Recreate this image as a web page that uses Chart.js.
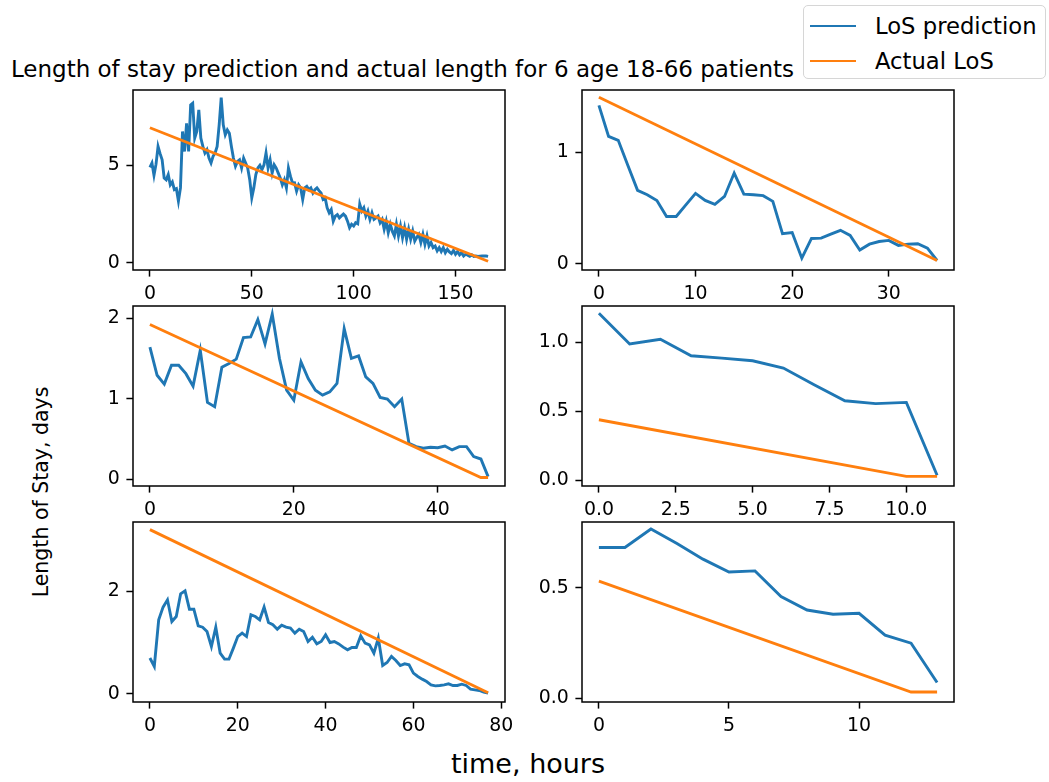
<!DOCTYPE html>
<html>
<head>
<meta charset="utf-8">
<script src="https://cdn.jsdelivr.net/npm/chart.js@4.4.1/dist/chart.umd.min.js"></script>
<style>
    body { margin: 0; background: #fff; width: 1049px; height: 782px; overflow: hidden; position: relative; font-family: 'DejaVu Sans', sans-serif; color: #000; }
    canvas { position: absolute; }
    .txt { position: absolute; white-space: nowrap; }
    #legend { position: absolute; left: 803px; top: 5px; width: 241px; height: 72px; border: 1.5px solid #d6d6d6; border-radius: 5px; background: #fff; font-size: 22.7px; white-space: nowrap; }
    .leg-line { position: absolute; left: 6px; width: 46px; height: 2.9px; }
    .leg-text { position: absolute; left: 71px; line-height: 26px; height: 26px; }
</style>
</head>
<body>

<div class="txt" id="title" style="left:0; top:56px; width:805px; text-align:center; font-size:23px;">Length of stay prediction and actual length for 6 age 18-66 patients</div>

<div id="legend">
    <div class="leg-line" style="top:18.5px; background:#1f77b4"></div>
    <div class="leg-text" style="top:7px;">LoS prediction</div>
    <div class="leg-line" style="top:53.5px; background:#ff7f0e"></div>
    <div class="leg-text" style="top:42px;">Actual LoS</div>
</div>

<div class="txt" id="ylabel" style="left:41px; top:492px; font-size:20.5px; transform: translate(-50%, -50%) rotate(-90deg);">Length of Stay, days</div>
<div class="txt" id="xlabel" style="left:528px; top:763px; font-size:27px; transform: translate(-50%, -50%);">time, hours</div>

<canvas id="c1"></canvas>
<canvas id="c2"></canvas>
<canvas id="c3"></canvas>
<canvas id="c4"></canvas>
<canvas id="c5"></canvas>
<canvas id="c6"></canvas>

<script>
// predicted LoS per hour, one value per hour from 0
const predTL = [4.9, 5.12, 4.49, 5.06, 5.97, 5.6, 5.28, 4.35, 4.26, 4.52,
    4.0, 4.15, 3.75, 3.8, 3.16, 3.84, 6.74, 5.71, 7.16, 5.71,
    8.1, 8.19, 6.4, 6.74, 7.85, 6.4, 5.97, 5.63, 5.8, 5.37,
    5.12, 5.46, 5.63, 5.97, 7.08, 8.48, 7.08, 6.57, 6.82, 6.65,
    5.97, 5.37, 4.95, 5.2, 5.28, 4.86, 5.37, 5.12, 4.86, 4.26,
    3.33, 3.84, 4.52, 4.86, 5.0, 4.78, 5.03, 5.63, 4.86, 5.28,
    4.6, 5.03, 4.86, 4.6, 4.35, 4.0, 4.26, 3.84, 4.86, 4.43,
    4.09, 4.1, 3.67, 4.0, 3.84, 3.25, 3.84, 3.92, 3.75, 3.84,
    3.58, 3.75, 3.84, 3.7, 3.58, 3.25, 3.33, 2.82, 2.56, 2.73,
    2.13, 2.39, 2.47, 2.3, 2.4, 2.5, 2.39, 2.13, 1.79, 1.97,
    1.88, 2.05, 2.0, 3.0, 2.65, 2.82, 2.39, 2.65, 2.22, 2.56,
    2.22, 2.3, 2.39, 2.05, 2.22, 1.71, 2.13, 1.54, 1.97, 1.6,
    1.37, 1.97, 1.37, 1.88, 1.28, 1.79, 1.2, 1.71, 1.2, 1.62,
    1.11, 1.3, 1.45, 1.03, 1.45, 0.94, 1.37, 0.85, 1.03, 0.77,
    0.85, 0.6, 0.77, 0.57, 0.77, 0.51, 0.68, 0.55, 0.46, 0.63,
    0.43, 0.57, 0.4, 0.51, 0.34, 0.43, 0.38, 0.32, 0.4, 0.32,
    0.34, 0.32, 0.33, 0.34, 0.34, 0.34, 0.32];
const predTR = [1.418, 1.14, 1.105, 0.88, 0.657, 0.618, 0.567, 0.424, 0.424, 0.528,
    0.63, 0.567, 0.532, 0.603, 0.812, 0.624, 0.618, 0.61, 0.559, 0.27,
    0.28, 0.051, 0.227, 0.23, 0.266, 0.3, 0.254, 0.123, 0.176, 0.2,
    0.21, 0.165, 0.176, 0.18, 0.14, 0.03];
const predML = [1.64, 1.29, 1.18, 1.415, 1.415, 1.31, 1.155, 1.6, 0.953, 0.9,
    1.39, 1.435, 1.49, 1.757, 1.765, 1.98, 1.68, 2.05, 1.5, 1.105,
    0.98, 1.455, 1.25, 1.105, 1.043, 1.084, 1.19, 1.87, 1.5, 1.53,
    1.27, 1.19, 1.015, 0.994, 0.9, 0.994, 0.446, 0.404, 0.384, 0.396,
    0.39, 0.412, 0.363, 0.404, 0.404, 0.28, 0.25, 0.032];
const predMR = [1.212, 0.99, 1.024, 0.904, 0.887, 0.868, 0.815, 0.694, 0.578, 0.557, 0.566, 0.038];
const predBL = [0.70, 0.535, 1.447, 1.695, 1.838, 1.414, 1.512, 1.955, 2.014, 1.655,
    1.655, 1.33, 1.303, 1.218, 0.925, 1.303, 0.795, 0.678, 0.678, 0.893,
    1.12, 1.186, 1.12, 1.545, 1.512, 1.447, 1.695, 1.395, 1.35, 1.264,
    1.343, 1.303, 1.284, 1.186, 1.264, 1.218, 1.023, 1.108, 0.977, 1.023,
    1.153, 1.003, 1.023, 0.977, 0.913, 0.86, 0.906, 0.906, 1.134, 0.99,
    0.958, 0.795, 1.088, 0.554, 0.612, 0.73, 0.652, 0.554, 0.587, 0.567,
    0.404, 0.339, 0.287, 0.241, 0.176, 0.156, 0.163, 0.176, 0.196, 0.163,
    0.163, 0.189, 0.163, 0.091, 0.078, 0.065, 0.033, 0.014];
const predBR = [0.682, 0.682, 0.765, 0.70, 0.629, 0.571, 0.576, 0.46, 0.399, 0.38, 0.384, 0.285, 0.249, 0.071];

// actual LoS: corner points of the straight lines (hour, days)
const actTLx = [0, 166];       const actTLy = [6.93, 0.07];
const actTRx = [0, 35];        const actTRy = [1.49, 0.03];
const actMLx = [0, 46, 47];    const actMLy = [1.92, 0.02, 0.02];
const actMRx = [0, 10, 11];    const actMRy = [0.44, 0.03, 0.03];
const actBLx = [0, 77];        const actBLy = [3.21, 0.02];
const actBRx = [0, 12, 13];    const actBRy = [0.53, 0.028, 0.028];

// tick values and labels
const xTicksTL = [0, 50, 100, 150];          const xLabelsTL = ['0', '50', '100', '150'];
const yTicksTL = [0, 5];                     const yLabelsTL = ['0', '5'];
const xTicksTR = [0, 10, 20, 30];            const xLabelsTR = ['0', '10', '20', '30'];
const yTicksTR = [0, 1];                     const yLabelsTR = ['0', '1'];
const xTicksML = [0, 20, 40];                const xLabelsML = ['0', '20', '40'];
const yTicksML = [0, 1, 2];                  const yLabelsML = ['0', '1', '2'];
const xTicksMR = [0, 2.5, 5, 7.5, 10];       const xLabelsMR = ['0.0', '2.5', '5.0', '7.5', '10.0'];
const yTicksMR = [0, 0.5, 1];                const yLabelsMR = ['0.0', '0.5', '1.0'];
const xTicksBL = [0, 20, 40, 60, 80];        const xLabelsBL = ['0', '20', '40', '60', '80'];
const yTicksBL = [0, 2];                     const yLabelsBL = ['0', '2'];
const xTicksBR = [0, 5, 10];                 const xLabelsBR = ['0', '5', '10'];
const yTicksBR = [0, 0.5];                   const yLabelsBR = ['0.0', '0.5'];

const BLUE = '#1f77b4';
const ORANGE = '#ff7f0e';
const TICK_FONT = { family: 'DejaVu Sans', size: 18.9 };

// axes frame like matplotlib spines
const framePlugin = {
    id: 'frame',
    afterDatasetsDraw(chart) {
        const a = chart.chartArea;
        const ctx = chart.ctx;
        ctx.save();
        ctx.strokeStyle = '#000';
        ctx.lineWidth = 1.5;
        ctx.strokeRect(a.left, a.top, a.right - a.left, a.bottom - a.top);
        ctx.restore();
    }
};

const PAD_L = 70, PAD_T = 20, PAD_R = 40, PAD_B = 60;

function axisOpts(min, max, tickVals, tickLabels, isX) {
    return {
        type: 'linear',
        min: min,
        max: max,
        afterBuildTicks: (scale) => {
            scale.ticks = tickVals.map(v => ({ value: v }));
        },
        afterFit: (scale) => {
            if (isX) scale.height = PAD_B;
            else scale.width = PAD_L;
        },
        grid: {
            drawOnChartArea: false,
            drawTicks: true,
            tickLength: 6.6,
            tickWidth: 1.5,
            tickColor: '#000'
        },
        border: { display: false },
        ticks: {
            autoSkip: false,
            maxRotation: 0,
            minRotation: 0,
            padding: 6.6,
            color: '#000',
            font: TICK_FONT,
            callback: (value, i) => tickLabels[i]
        }
    };
}

function makePanel(id, box, pred, actX, actY, xr, yr, xt, xl, yt, yl) {
    const canvas = document.getElementById(id);
    const w = box[2] - box[0];
    const h = box[3] - box[1];
    canvas.width = w + PAD_L + PAD_R;
    canvas.height = h + PAD_T + PAD_B;
    canvas.style.left = (box[0] - PAD_L) + 'px';
    canvas.style.top = (box[1] - PAD_T) + 'px';
    canvas.style.width = canvas.width + 'px';
    canvas.style.height = canvas.height + 'px';

    return new Chart(canvas, {
        type: 'line',
        data: {
            datasets: [
                {
                    label: 'LoS prediction',
                    data: pred.map((v, i) => ({ x: i, y: v })),
                    borderColor: BLUE,
                    borderWidth: 2.9,
                    pointRadius: 0,
                    tension: 0,
                    order: 2
                },
                {
                    label: 'Actual LoS',
                    data: actX.map((x, i) => ({ x: x, y: actY[i] })),
                    borderColor: ORANGE,
                    borderWidth: 2.9,
                    pointRadius: 0,
                    tension: 0,
                    order: 1
                }
            ]
        },
        options: {
            responsive: false,
            animation: false,
            devicePixelRatio: 1,
            layout: { padding: { left: 0, top: PAD_T, right: PAD_R, bottom: 0 } },
            plugins: { legend: { display: false }, tooltip: { enabled: false } },
            scales: {
                x: axisOpts(xr[0], xr[1], xt, xl, true),
                y: axisOpts(yr[0], yr[1], yt, yl, false)
            }
        },
        plugins: [framePlugin]
    });
}

window.addEventListener('DOMContentLoaded', () => {
    const colL = [133, 505], colR = [582, 954];
    const row1 = [90, 270], row2 = [306, 486], row3 = [522, 702];

    makePanel('c1', [colL[0], row1[0], colL[1], row1[1]], predTL, actTLx, actTLy,
        [-8.3, 174.3], [-0.38, 8.87], xTicksTL, xLabelsTL, yTicksTL, yLabelsTL);
    makePanel('c2', [colR[0], row1[0], colR[1], row1[1]], predTR, actTRx, actTRy,
        [-1.75, 36.75], [-0.055, 1.555], xTicksTR, xLabelsTR, yTicksTR, yLabelsTR);
    makePanel('c3', [colL[0], row2[0], colL[1], row2[1]], predML, actMLx, actMLy,
        [-2.35, 49.35], [-0.085, 2.15], xTicksML, xLabelsML, yTicksML, yLabelsML);
    makePanel('c4', [colR[0], row2[0], colR[1], row2[1]], predMR, actMRx, actMRy,
        [-0.55, 11.55], [-0.04, 1.265], xTicksMR, xLabelsMR, yTicksMR, yLabelsMR);
    makePanel('c5', [colL[0], row3[0], colL[1], row3[1]], predBL, actBLx, actBLy,
        [-3.85, 80.85], [-0.16, 3.36], xTicksBL, xLabelsBL, yTicksBL, yLabelsBL);
    makePanel('c6', [colR[0], row3[0], colR[1], row3[1]], predBR, actBRx, actBRy,
        [-0.65, 13.65], [-0.017, 0.797], xTicksBR, xLabelsBR, yTicksBR, yLabelsBR);
});
</script>
</body>
</html>
